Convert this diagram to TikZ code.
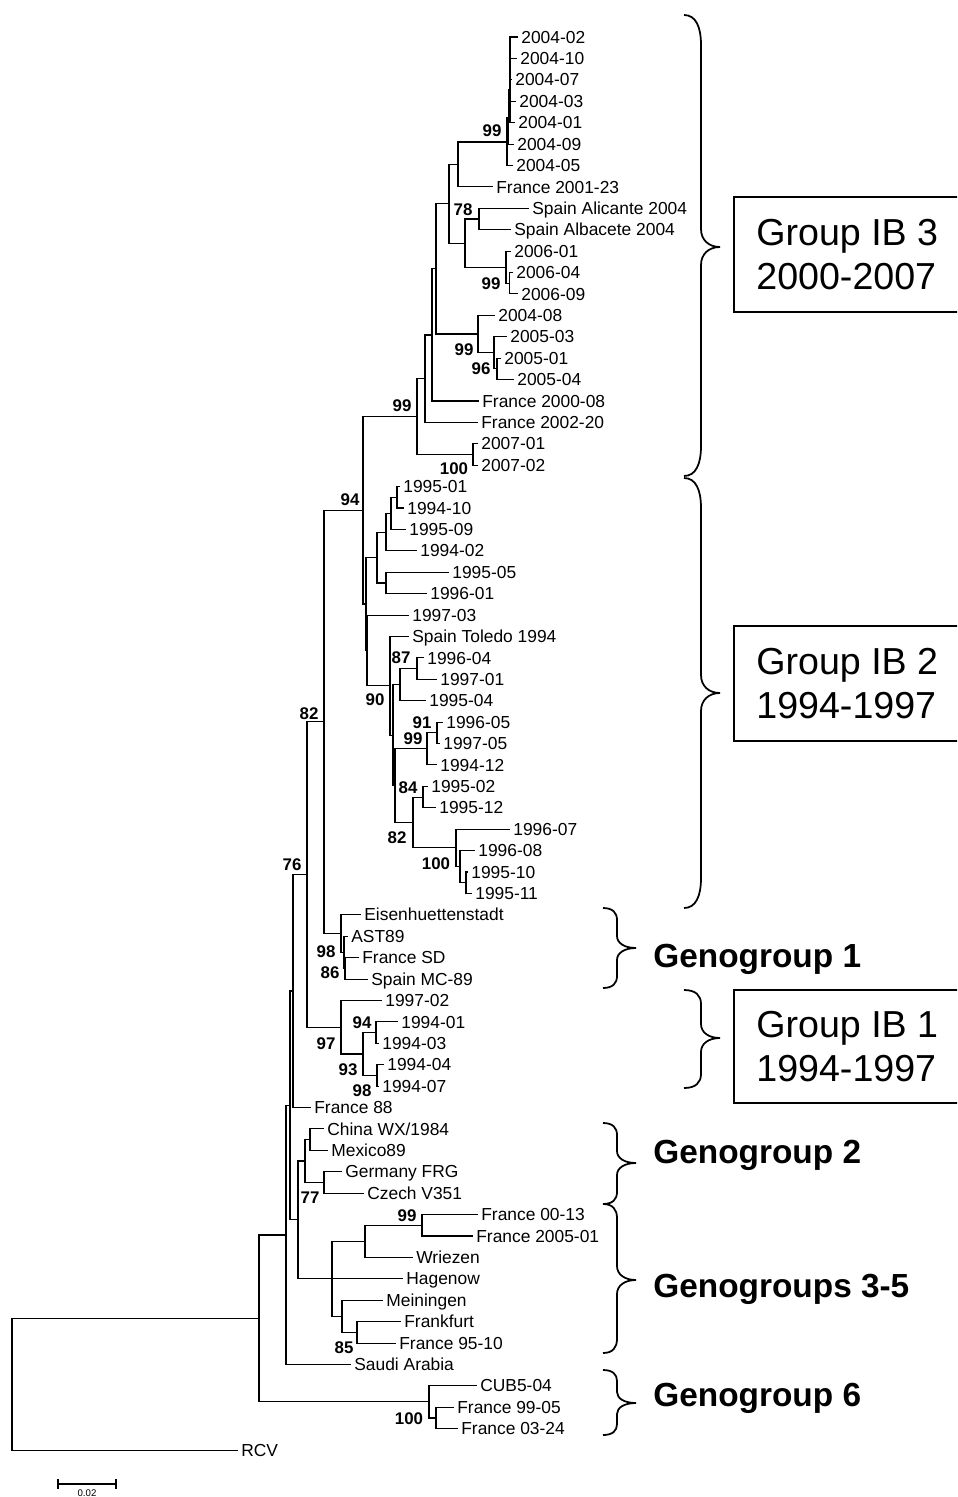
\documentclass[tikz,border=0pt]{standalone}
\usepackage{fontspec}
\setmainfont{Liberation Sans}
\usepackage{tikz}

\tikzset{
  branch/.style={line width=0.6pt, black, line cap=rect},
  leaf/.style={anchor=west, inner xsep=0.08cm, inner ysep=0pt, text height=7pt, text depth=0pt, font=\fontsize{9.9}{11}\selectfont},
  boot/.style={inner sep=0pt, text height=6.9pt, text depth=0pt, font=\fontsize{9.6}{11}\selectfont\bfseries},
  clbrace/.style={line width=1pt, black},
  grpbox/.style={draw, line width=1.2pt},
  boxtext/.style={anchor=west, inner sep=0pt, align=left, font=\fontsize{21.4}{25.5}\selectfont},
  geno/.style={anchor=base west, inner sep=0pt, font=\fontsize{19}{22}\selectfont\bfseries}
}

\begin{document}
\begin{tikzpicture}[x=0.02cm,y=-0.02cm]
		\useasboundingbox (0,0) rectangle (957,1497);
		\clip (0,0) rectangle (957,1497); % the boxes run off the right edge

		% leaf tips: index / tip x / name, one row every 21.41 units
		\foreach \i/\tx/\lab in {0/517/2004-02, 1/516/2004-10, 2/511/2004-07, 3/515/2004-03,
		  4/514/2004-01, 5/513/2004-09, 6/512/2004-05, 7/492/France 2001-23,
		  8/528/Spain Alicante 2004, 9/510/Spain Albacete 2004, 10/510/2006-01, 11/512/2006-04,
		  12/517/2006-09, 13/494/2004-08, 14/506/2005-03, 15/500/2005-01, 16/513/2005-04,
		  17/478/France 2000-08, 18/477/France 2002-20, 19/477/2007-01, 20/477/2007-02,
		  21/399/1995-01, 22/403/1994-10, 23/405/1995-09, 24/416/1994-02, 25/448/1995-05,
		  26/426/1996-01, 27/408/1997-03, 28/408/Spain Toledo 1994, 29/423/1996-04,
		  30/436/1997-01, 31/425/1995-04, 32/442/1996-05, 33/439/1997-05, 34/436/1994-12,
		  35/427/1995-02, 36/435/1995-12, 37/509/1996-07, 38/474/1996-08, 39/467/1995-10,
		  40/471/1995-11, 41/360/Eisenhuettenstadt, 42/347/AST89, 43/358/France SD,
		  44/367/Spain MC-89, 45/381/1997-02, 46/397/1994-01, 47/378/1994-03, 48/383/1994-04,
		  49/378/1994-07, 50/310/France 88, 51/323/{China WX/1984}, 52/327/Mexico89,
		  53/341/Germany FRG, 54/363/Czech V351, 55/477/France 00-13, 56/472/France 2005-01,
		  57/412/Wriezen, 58/402/Hagenow, 59/382/Meiningen, 60/400/Frankfurt,
		  61/395/France 95-10, 62/350/Saudi Arabia, 63/476/CUB5-04, 64/453/France 99-05,
		  65/457/France 03-24, 66/237/RCV}{
		  \coordinate (Tip\i) at (\tx,{37+21.41*\i});
		  \node[leaf] (Lab\i) at (Tip\i) {\lab};
		}

		% inner nodes of the tree
		\foreach \n/\nx/\ny in {N3/510/90, N2/508.5/118, N1/507/142, A1/458/164.3,
		  SP/479/219, S06b/509.5/283.2, S06a/506/267.1, A3/465/243.1, A2/449/203.7,
		  B3/497/368.9, B2/494/352.8, B1/478/334, A4/436/268.9, A5/432/335, A6/425/378.7,
		  S07/473/454.5, A7/417/416.6, C4/397/497.3, C3/391/513.4, C2/386/532.1,
		  C6/386/583, C1/377/557.6, C8/417/668.6, C7/400/684.7, D2/437/732.8,
		  D1/427/748.9, F1/423/797.1, G3/466/882.7, G2/460/866.6, G1/456/847.9,
		  F0/413/822.5, D0/395/785.7, E1/393/735.2, E0/390/685.9, C9/367/650.5,
		  C0/366/604, A8/363/510.3, H2/345/968.3, H1/344/952.3, H0/341/933.5,
		  P82/324/721.9, I2/376/1032.6, I3/377/1075.4, I1/363/1054, I0/341/1027.2,
		  P76/307/874.6, Q/293/991, W/310/1139.6, X/324/1182.4, V/305/1161,
		  Z3/422/1225.3, Z1/365/1241.3, Z4/357/1332.3, Z2/342/1316.3, Y/332/1278.8,
		  U/298/1219.9, Q2/290/1105.5, R2/286/1235, G6b/436/1418, G6/429/1401.9,
		  R1/259/1318.5, Root/12/1384}{
		  \coordinate (\n) at (\nx,\ny);
		}

		% parent / child, drawn as elbows
		\foreach \p/\c in {N3/Tip0, N3/Tip1, N3/Tip2, N3/Tip3, N3/Tip4, N2/N3, N2/Tip5,
		  N1/N2, N1/Tip6, A1/N1, A1/Tip7, SP/Tip8, SP/Tip9, S06b/Tip11, S06b/Tip12,
		  S06a/Tip10, S06a/S06b, A3/SP, A3/S06a, A2/A1, A2/A3, B3/Tip15, B3/Tip16,
		  B2/Tip14, B2/B3, B1/Tip13, B1/B2, A4/A2, A4/B1, A5/A4, A5/Tip17, A6/A5,
		  A6/Tip18, S07/Tip19, S07/Tip20, A7/A6, A7/S07, C4/Tip21, C4/Tip22, C3/C4,
		  C3/Tip23, C2/C3, C2/Tip24, C6/Tip25, C6/Tip26, C1/C2, C1/C6, C8/Tip29,
		  C8/Tip30, C7/C8, C7/Tip31, D2/Tip32, D2/Tip33, D1/D2, D1/Tip34, F1/Tip35,
		  F1/Tip36, G3/Tip39, G3/Tip40, G2/Tip38, G2/G3, G1/Tip37, G1/G2, F0/F1, F0/G1,
		  D0/D1, D0/F0, E1/C7, E1/D0, E0/Tip28, E0/E1, C9/Tip27, C9/E0, C0/C1, C0/C9,
		  A8/A7, A8/C0, H2/Tip43, H2/Tip44, H1/Tip42, H1/H2, H0/Tip41, H0/H1, P82/A8,
		  P82/H0, I2/Tip46, I2/Tip47, I3/Tip48, I3/Tip49, I1/I2, I1/I3, I0/Tip45, I0/I1,
		  P76/P82, P76/I0, Q/P76, Q/Tip50, W/Tip51, W/Tip52, X/Tip53, X/Tip54, V/W, V/X,
		  Z3/Tip55, Z3/Tip56, Z1/Z3, Z1/Tip57, Z4/Tip60, Z4/Tip61, Z2/Tip59, Z2/Z4,
		  Y/Z1, Y/Tip58, Y/Z2, U/V, U/Y, Q2/Q, Q2/U, R2/Q2, R2/Tip62, G6b/Tip64,
		  G6b/Tip65, G6/Tip63, G6/G6b, R1/R2, R1/G6, Root/R1, Root/Tip66}{
		  \draw[branch] (\p) |- (\c);
		}

		% bootstrap values
		\foreach \bx/\by/\bv [count=\k] in {492/130/99, 463/209/78, 491/283/99, 464/349/99,
		  481/368/96, 402/405/99, 454/468/100, 350/499/94, 401/657/87, 375/699/90,
		  422/722/91, 413/738/99, 408/787/84, 397/837/82, 436/863/100, 309/713/82,
		  292/864/76, 326/951/98, 330/972/86, 362/1022/94, 326/1043/97, 348/1069/93,
		  362/1090/98, 310/1197/77, 407/1215/99, 344/1347/85, 409/1418/100}{
		  \node[boot] (Boot\k) at (\bx,\by) {\bv};
		}

		% curly braces: end x / line x / tip x / top / tip / bottom / end bend / tip bend
		\foreach \xa/\xl/\xt/\ya/\ym/\yb/\re/\rt in {684/701/720/15/247/476/30/18,
		  684/701/720/478/693/908/30/18, 603/617/636/908/948/988/12/12,
		  684/701/720/990/1038/1088/14/14, 603/617/636/1123/1163/1204/12/12,
		  603/617/636/1204/1280/1353/14/14, 603/617/636/1370/1403/1435/11/11}{
		  \draw[clbrace] (\xa,\ya) .. controls ({\xa+0.7*(\xl-\xa)},\ya) and (\xl,{\ya+0.4*\re}) .. (\xl,{\ya+\re})
		    -- (\xl,{\ym-\rt}) .. controls (\xl,{\ym-0.4*\rt}) and ({\xl+0.4*(\xt-\xl)},\ym) .. (\xt,\ym)
		    .. controls ({\xl+0.4*(\xt-\xl)},\ym) and (\xl,{\ym+0.4*\rt}) .. (\xl,{\ym+\rt})
		    -- (\xl,{\yb-\re}) .. controls (\xl,{\yb-0.4*\re}) and ({\xa+0.7*(\xl-\xa)},\yb) .. (\xa,\yb);
		}

		% boxed group names
		\foreach \ya/\yb/\txt [count=\k] in {197/312/{Group IB 3\\2000-2007},
		  626/741/{Group IB 2\\1994-1997}, 990/1103/{Group IB 1\\1994-1997}}{
		  \draw[grpbox] (734,\ya) rectangle (962,\yb);
		  \node[boxtext] (Box\k) at (756,{(\ya+\yb)/2}) {\txt};
		}

		\node[geno] (Geno1) at (653,967) {Genogroup 1};
		\node[geno] (Geno2) at (653,1163) {Genogroup 2};
		\node[geno] (Geno35) at (653,1297) {Genogroups 3-5};
		\node[geno] (Geno6) at (653,1406) {Genogroup 6};

		% scale bar
		\coordinate (BarL) at (58,1484);
		\coordinate (BarR) at (116,1484);
		\draw[branch] (BarL) -- (BarR);
		\draw[branch] ([yshift=0.08cm]BarL) -- ([yshift=-0.08cm]BarL);
		\draw[branch] ([yshift=0.08cm]BarR) -- ([yshift=-0.08cm]BarR);
		\node[inner sep=0pt, font=\fontsize{5.5}{6}\selectfont] (BarLab) at (87,1493) {0.02};
	  \end{tikzpicture}
\end{document}
